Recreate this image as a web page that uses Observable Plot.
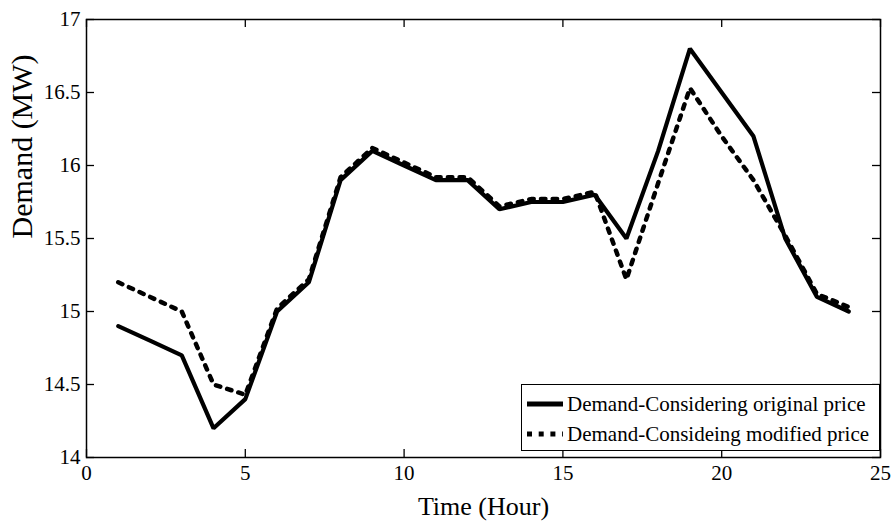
<!DOCTYPE html>
<html>
<head>
<meta charset="utf-8">
<script src="https://cdn.jsdelivr.net/npm/d3@7"></script>
<script src="https://cdn.jsdelivr.net/npm/@observablehq/plot@0.6"></script>
<style>
  html, body { margin: 0; padding: 0; background: #fff; }
  #wrap { position: relative; width: 892px; height: 521px; }
  #legend {
    position: absolute; left: 521px; top: 384px; width: 359px; height: 67px;
    border: 1px solid #000; background: #fff; box-sizing: border-box;
    font-family: "Liberation Serif", "Times New Roman", serif; font-size: 21px; color: #000;
  }
  .item { position: absolute; left: 0; height: 30px; display: flex; align-items: center; white-space: nowrap; }
  .item svg { margin-left: 5px; margin-right: 4px; }
</style>
</head>
<body>
<div id="wrap"></div>
<script>
const hours = d3.range(1, 25);
const originalDemand = [14.9, 14.8, 14.7, 14.2, 14.4, 15.0, 15.2, 15.9, 16.1, 16.0, 15.9, 15.9, 15.7, 15.75, 15.75, 15.8, 15.5, 16.1, 16.8, 16.5, 16.2, 15.5, 15.1, 15.0];
const modifiedDemand = [15.2, 15.1, 15.0, 14.5, 14.43, 15.02, 15.22, 15.92, 16.12, 16.02, 15.92, 15.92, 15.72, 15.77, 15.77, 15.82, 15.22, 15.88, 16.53, 16.2, 15.9, 15.52, 15.12, 15.03];
const seriesNames = ["Demand-Considering original price", "Demand-Consideing modified price"];
const xTicks = [0, 5, 10, 15, 20, 25];
const yTicks = [14, 14.5, 15, 15.5, 16, 16.5, 17];
const xLabel = "Time (Hour)";
const yLabel = "Demand (MW)";

const orig = hours.map((h, i) => ({hour: h, value: originalDemand[i]}));
const mod = hours.map((h, i) => ({hour: h, value: modifiedDemand[i]}));

const W = 892, H = 521, mL = 86, mR = 12, mT = 19, mB = 64;
const plotW = W - mL - mR, plotH = H - mT - mB;
const T = 8; // inward tick length

const chart = Plot.plot({
  width: W,
  height: H,
  marginLeft: mL,
  marginRight: mR,
  marginTop: mT,
  marginBottom: mB,
  style: {fontFamily: "'Liberation Serif', 'Times New Roman', serif", fontSize: "21px", color: "#000", background: "#fff", overflow: "visible"},
  x: {domain: [0, 25]},
  y: {domain: [14, 17]},
  marks: [
    Plot.line(orig, {x: "hour", y: "value", stroke: "#000", strokeWidth: 4.2, strokeLinejoin: "miter", clip: true}),
    Plot.line(mod, {x: "hour", y: "value", stroke: "#000", strokeWidth: 4.5, strokeDasharray: "4.5,7.2", strokeLinejoin: "miter", clip: true}),
    // inward ticks on all four sides
    Plot.ruleX(xTicks, {x: d => d, stroke: "#000", strokeWidth: 1.3, insetTop: plotH - T}),
    Plot.ruleX(xTicks, {x: d => d, stroke: "#000", strokeWidth: 1.3, insetBottom: plotH - T}),
    Plot.ruleY(yTicks, {y: d => d, stroke: "#000", strokeWidth: 1.3, insetRight: plotW - T}),
    Plot.ruleY(yTicks, {y: d => d, stroke: "#000", strokeWidth: 1.3, insetLeft: plotW - T}),
    Plot.frame({stroke: "#000", strokeWidth: 1.5}),
    // tick labels
    Plot.axisX({ticks: xTicks, tickSize: 0, tickPadding: 8, label: null, fontSize: 21}),
    Plot.axisY({ticks: yTicks, tickSize: 0, tickPadding: 6, label: null, fontSize: 21, tickFormat: d => String(d)}),
    // axis titles
    Plot.text([xLabel], {text: d => d, frameAnchor: "bottom", dy: 49, fontSize: 26, lineAnchor: "middle"}),
    Plot.text([yLabel], {text: d => d, frameAnchor: "left", dx: -64, rotate: -90, fontSize: 30, lineAnchor: "middle"})
  ]
});
document.getElementById("wrap").appendChild(chart);

const legend = document.createElement("div");
legend.id = "legend";
const tops = [4, 34];
seriesNames.forEach((name, i) => {
  const item = document.createElement("div");
  item.className = "item";
  item.style.top = tops[i] + "px";
  const dash = i === 0 ? "" : 'stroke-dasharray="5,6.7"';
  item.innerHTML = `<svg width="36" height="10"><line x1="0" y1="5" x2="36" y2="5" stroke="#000" stroke-width="5" ${dash}/></svg><span>${name}</span>`;
  legend.appendChild(item);
});
document.getElementById("wrap").appendChild(legend);
</script>
</body>
</html>
